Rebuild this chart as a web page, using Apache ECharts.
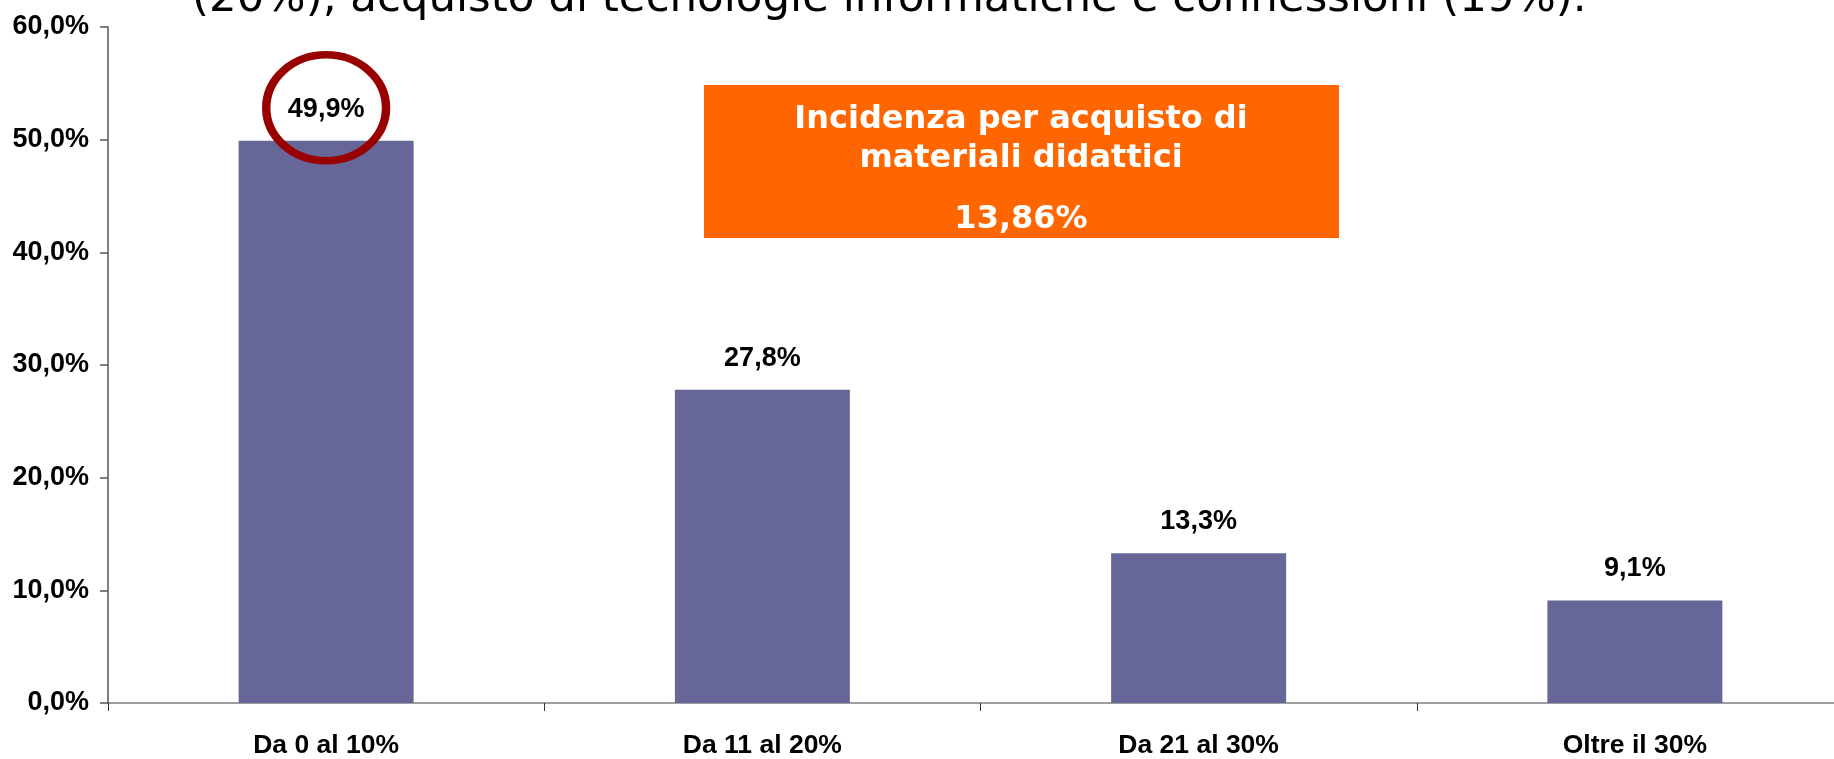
<!DOCTYPE html>
<html>
<head>
<meta charset="utf-8">
<script src="https://cdn.jsdelivr.net/npm/echarts@6/dist/echarts.min.js"></script>
<style>
html,body{margin:0;padding:0;background:#fff;overflow:hidden;}
#chart{width:1853px;height:759px;}
</style>
</head>
<body>
<div id="chart"></div>
<script>
const categories = ['Da 0 al 10%', 'Da 11 al 20%', 'Da 21 al 30%', 'Oltre il 30%'];
const values = [49.9, 27.8, 13.3, 9.1];
const yTicks = [0, 10, 20, 30, 40, 50, 60];
const headingText = '(20%), acquisto di tecnologie informatiche e connessioni (19%).';
const boxLines = ['Incidenza per acquisto di', 'materiali didattici', '13,86%'];
const highlightIndex = 0;

const fmt = v => v.toFixed(1).replace('.', ',') + '%';
const labelFont = "'Liberation Sans', Arial, sans-serif";
const boxFont = "'DejaVu Sans', Verdana, sans-serif";

const chart = echarts.init(document.getElementById('chart'), null, {renderer: 'canvas'});

const option = {
  backgroundColor: '#ffffff',
  animation: false,
  grid: {left: 108, top: 27, right: 0, bottom: 54, containLabel: false},
  xAxis: {
    type: 'category',
    data: categories,
    axisLine: {lineStyle: {color: '#7f7f7f', width: 1.5}},
    axisTick: {show: true, length: 8, alignWithLabel: false, lineStyle: {color: '#333', width: 1}},
    axisLabel: {color: '#000', fontSize: 26.5, fontWeight: 'bold', fontFamily: labelFont, margin: 29}
  },
  yAxis: {
    type: 'value',
    min: yTicks[0],
    max: yTicks[yTicks.length - 1],
    interval: 10,
    splitLine: {show: false},
    axisLine: {show: true, lineStyle: {color: '#555', width: 1.5}},
    axisTick: {show: true, length: 8, lineStyle: {color: '#555', width: 1.5}},
    axisLabel: {color: '#000', fontSize: 27, fontWeight: 'bold', fontFamily: labelFont, margin: 19, formatter: fmt}
  },
  series: [{
    type: 'bar',
    data: values,
    barWidth: 175,
    itemStyle: {color: '#666699'},
    label: {
      show: true, position: 'top', distance: 18,
      color: '#000', fontSize: 27, fontWeight: 'bold', fontFamily: labelFont,
      formatter: p => fmt(p.value)
    }
  }]
};
chart.setOption(option);

// annotations positioned from the chart's own scales
const c = chart.convertToPixel({xAxisIndex: 0, yAxisIndex: 0}, [highlightIndex, values[highlightIndex]]);
chart.setOption({
  graphic: [
    {
      type: 'text',
      style: {x: 192, y: 0, text: headingText, fill: '#000', font: "43.5px " + boxFont, textAlign: 'left', textVerticalAlign: 'middle'}
    },
    {
      type: 'circle', x: c[0], y: c[1] - 33, scaleX: 1.13, scaleY: 1,
      shape: {cx: 0, cy: 0, r: 53},
      style: {fill: 'none', stroke: '#990000', lineWidth: 7.5},
      z: 10
    },
    {
      type: 'rect', shape: {x: 704, y: 85, width: 635, height: 153},
      style: {fill: '#FF6600'}, z: 5
    },
    {
      type: 'text', z: 6,
      style: {x: 1021, y: 120, text: boxLines[0], fill: '#fff', font: "bold 32px " + boxFont, textAlign: 'center', textVerticalAlign: 'middle'}
    },
    {
      type: 'text', z: 6,
      style: {x: 1021, y: 159, text: boxLines[1], fill: '#fff', font: "bold 32px " + boxFont, textAlign: 'center', textVerticalAlign: 'middle'}
    },
    {
      type: 'text', z: 6,
      style: {x: 1021, y: 220, text: boxLines[2], fill: '#fff', font: "bold 32px " + boxFont, textAlign: 'center', textVerticalAlign: 'middle'}
    }
  ]
});
</script>
</body>
</html>
